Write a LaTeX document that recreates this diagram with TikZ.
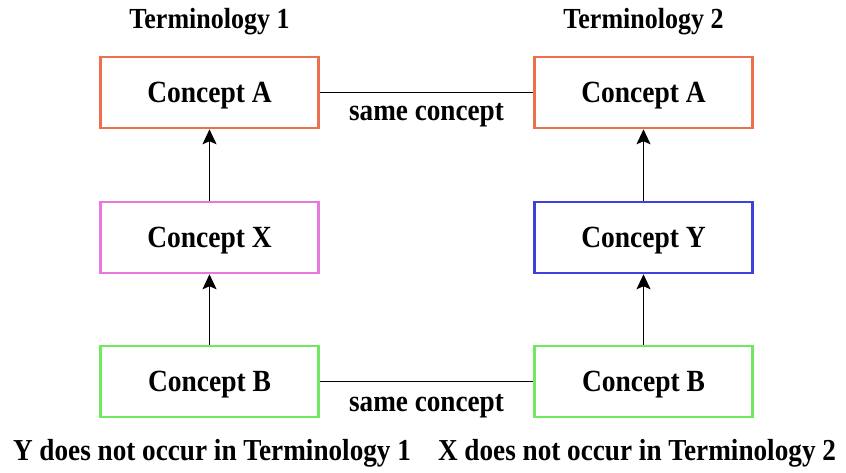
\documentclass[tikz,border=0pt]{standalone}
\usepackage{fontspec}
\usepackage{graphicx}
\setmainfont{Liberation Serif}
\usetikzlibrary{arrows.meta}
\definecolor{boxorange}{RGB}{236,112,80}
\definecolor{boxpink}{RGB}{232,120,224}
\definecolor{boxblue}{RGB}{64,64,220}
\definecolor{boxgreen}{RGB}{112,232,96}
% slightly tall lettering
\newcommand{\tall}[1]{\scalebox{1}[1.12]{#1}}
\tikzset{
  concept/.style={draw, line width=2.5pt, fill=white, minimum width=218pt,
    minimum height=71pt, inner sep=0pt, text height=20pt, text depth=0pt,
    font=\fontsize{27.5}{32}\selectfont\bfseries},
  caption/.style={inner sep=0pt, font=\fontsize{27.2}{32}\selectfont\bfseries},
  title/.style={inner sep=0pt, font=\fontsize{26}{31}\selectfont\bfseries},
  link/.style={line width=1.5pt, black},
  isa/.style={line width=1.5pt, black, -{Stealth[length=15pt,width=14pt,inset=3pt]}}
}
\begin{document}
\begin{tikzpicture}[x=1pt,y=-1pt]
  \useasboundingbox (0,0) rectangle (846,472);
  % column headings
  \node[title] (t1) at (209.5,22) {\tall{Terminology 1}};
  \node[title] (t2) at (643.5,22) {\tall{Terminology 2}};
  % left column
  \node[concept, draw=boxorange] (la) at (209.5,92.5) {\tall{Concept A}};
  \node[concept, draw=boxpink]   (lx) at (209.5,237.5) {\tall{Concept X}};
  \node[concept, draw=boxgreen]  (lb) at (209.5,381.5) {\tall{Concept B}};
  % right column
  \node[concept, draw=boxorange] (ra) at (643.5,92.5) {\tall{Concept A}};
  \node[concept, draw=boxblue]   (ry) at (643.5,237.5) {\tall{Concept Y}};
  \node[concept, draw=boxgreen]  (rb) at (643.5,381.5) {\tall{Concept B}};
  % subsumption arrows
  \draw[isa] (lx) -- (la);
  \draw[isa] (lb) -- (lx);
  \draw[isa] (ry) -- (ra);
  \draw[isa] (rb) -- (ry);
  % equivalences between the terminologies
  \draw[link] (la) -- node[caption, midway, yshift=-23pt] (s1) {\tall{same concept}} (ra);
  \draw[link] (lb) -- node[caption, midway, yshift=-25pt] (s2) {\tall{same concept}} (rb);
  % notes
  \node[caption] (n1) at (212,453) {\tall{Y does not occur in Terminology 1}};
  \node[caption] (n2) at (637,453) {\tall{X does not occur in Terminology 2}};
\end{tikzpicture}
\end{document}
